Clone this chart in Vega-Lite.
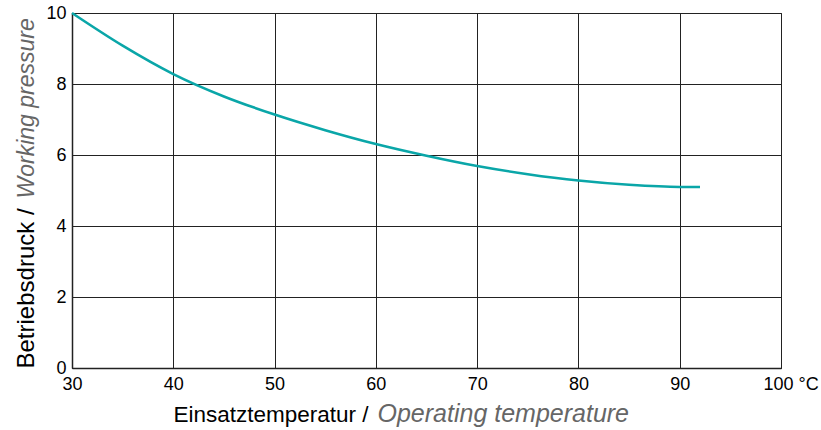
{
  "$schema": "https://vega.github.io/schema/vega-lite/v6.json",
  "width": 709,
  "height": 355,
  "autosize": {"type": "none"},
  "padding": {"left": 72, "top": 13, "right": 40, "bottom": 62},
  "background": "white",
  "config": {
    "view": {"stroke": "#222222", "strokeWidth": 1},
    "font": "Liberation Sans",
    "axis": {"labelFont": "Liberation Sans", "titleFont": "Liberation Sans"}
  },
  "data": {
    "values": [
      {"temp": 30, "pressure": 10.0},
      {"temp": 35, "pressure": 9.08},
      {"temp": 40, "pressure": 8.28},
      {"temp": 45, "pressure": 7.65},
      {"temp": 50, "pressure": 7.14},
      {"temp": 55, "pressure": 6.7},
      {"temp": 60, "pressure": 6.31},
      {"temp": 65, "pressure": 5.98},
      {"temp": 70, "pressure": 5.69},
      {"temp": 75, "pressure": 5.46},
      {"temp": 80, "pressure": 5.28},
      {"temp": 85, "pressure": 5.16},
      {"temp": 90, "pressure": 5.1},
      {"temp": 92, "pressure": 5.1}
    ]
  },
  "layer": [
    {
      "mark": {"type": "line", "opacity": 0},
      "encoding": {
        "x": {
          "field": "temp", "type": "quantitative",
          "scale": {"domain": [30, 100], "nice": false, "zero": false},
          "axis": {
            "orient": "bottom",
            "title": "Operating temperature",
            "titleFontStyle": "italic", "titleFontWeight": "normal",
            "titleColor": "#666666", "titleFontSize": 25,
            "titleAlign": "left", "titleAnchor": null, "titleBaseline": "alphabetic",
            "titleX": 305, "titleY": 53,
            "labels": false, "ticks": false, "domain": false, "grid": false
          }
        },
        "y": {
          "field": "pressure", "type": "quantitative",
          "scale": {"domain": [0, 10], "nice": false},
          "axis": {
            "orient": "left",
            "title": "Working pressure",
            "titleFontStyle": "italic", "titleFontWeight": "normal",
            "titleColor": "#666666", "titleFontSize": 23,
            "titleAngle": -90, "titleAlign": "left", "titleAnchor": null, "titleBaseline": "alphabetic",
            "titleX": -39, "titleY": 185,
            "labels": false, "ticks": false, "domain": false, "grid": false
          }
        }
      }
    },
    {
      "mark": {"type": "line", "color": "#0aa6a8", "strokeWidth": 2.6, "interpolate": "monotone"},
      "encoding": {
        "x": {
          "field": "temp", "type": "quantitative",
          "scale": {"domain": [30, 100], "nice": false, "zero": false},
          "axis": {
            "orient": "bottom",
            "values": [30, 40, 50, 60, 70, 80, 90, 100],
            "labelExpr": "datum.value == 100 ? '100 °C' : datum.label",
            "labelAlign": {"condition": {"test": "datum.value == 100", "value": "left"}, "value": "center"},
            "labelOffset": {"condition": {"test": "datum.value == 100", "value": -18}, "value": 0},
            "labelFontSize": 18, "labelColor": "#000000", "labelPadding": 7,
            "ticks": false,
            "domainColor": "#222222", "domainWidth": 1.5,
            "grid": true, "gridColor": "#222222", "gridOpacity": 1, "gridWidth": 1,
            "title": "Einsatztemperatur /",
            "titleFontWeight": "normal", "titleColor": "#000000", "titleFontSize": 22.5,
            "titleAlign": "left", "titleAnchor": null, "titleBaseline": "alphabetic",
            "titleX": 101, "titleY": 53
          }
        },
        "y": {
          "field": "pressure", "type": "quantitative",
          "scale": {"domain": [0, 10], "nice": false},
          "axis": {
            "orient": "left",
            "values": [0, 2, 4, 6, 8, 10],
            "labelFontSize": 18, "labelColor": "#000000", "labelPadding": 6,
            "ticks": false,
            "domainColor": "#222222", "domainWidth": 1.5,
            "grid": true, "gridColor": "#222222", "gridOpacity": 1, "gridWidth": 1,
            "title": "Betriebsdruck /",
            "titleFontWeight": "normal", "titleColor": "#000000", "titleFontSize": 24,
            "titleAngle": -90, "titleAlign": "left", "titleAnchor": null, "titleBaseline": "alphabetic",
            "titleX": -39, "titleY": 355
          }
        }
      }
    }
  ],
  "resolve": {"axis": {"x": "independent", "y": "independent"}}
}
